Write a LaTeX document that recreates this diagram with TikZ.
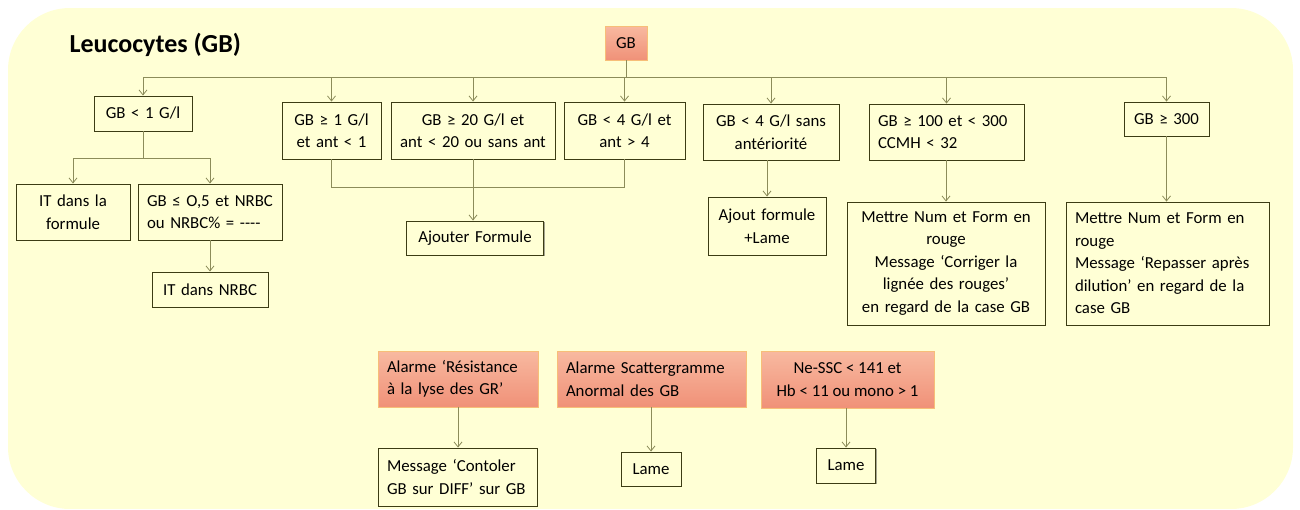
\documentclass[tikz,border=0pt]{standalone}
\usepackage{fontspec}
\setmainfont{Carlito}
\usetikzlibrary{arrows.meta,shadows}
\hyphenpenalty=10000
\exhyphenpenalty=10000
\definecolor{bgy}{RGB}{255,255,213}
\definecolor{boxline}{RGB}{60,60,20}
\definecolor{conn}{RGB}{140,140,90}
\definecolor{salmonA}{RGB}{248,185,160}
\definecolor{salmonB}{RGB}{240,145,120}
\definecolor{salmonline}{RGB}{247,190,120}
\tikzset{
  cbox/.style={draw=boxline, line width=0.9pt, fill=bgy, inner sep=2pt, align=center,
     font=\fontsize{16.8}{22.5}\selectfont, drop shadow={shadow xshift=1pt, shadow yshift=-1pt, opacity=0.5, fill=black!70}},
  lbox/.style={cbox, align=left},
  rbox/.style={draw=salmonline, line width=0.8pt, top color=salmonA, bottom color=salmonB, inner sep=2pt,
     align=left, font=\fontsize{16.8}{22.5}\selectfont},
  conline/.style={draw=conn, line width=0.8pt},
  conarrow/.style={conline, -{Straight Barb[length=5pt,width=8pt]}},
}
\newcommand{\bx}[6]{\node[#1, minimum width=#4pt, minimum height=#5pt, text width=#4pt-18pt] (#2) at #3 {#6};}
\begin{document}
\begin{tikzpicture}[x=1pt,y=-1pt]
\useasboundingbox (0,0) rectangle (1300,509);
\fill[bgy] (8,8) [rounded corners=62pt] -- (8,509) -- (1293,509) -- (1293,8) -- cycle;
\fill[white] (0,509) rectangle (1300,512);
\node[font=\fontsize{26}{30}\selectfont\bfseries, anchor=west] (title) at (66,45) {Leucocytes (GB)};

\node[rbox, align=center, minimum width=42pt, minimum height=34pt] (gb) at (626,43) {GB};

\bx{cbox}{b1}{(143,113.5)}{98}{35}{GB < 1 G/l}
\bx{cbox}{b2}{(331.5,130.5)}{99}{57}{GB ≥ 1 G/l\\et ant < 1}
\bx{cbox}{b3}{(473,130.5)}{164}{57}{GB ≥ 20 G/l et\\ant < 20 ou sans ant}
\bx{cbox}{b4}{(624.5,130.5)}{121}{57}{GB < 4 G/l et\\ant > 4}
\bx{cbox}{b5}{(771,132)}{136}{56}{GB < 4 G/l sans\\antériorité}
\bx{lbox}{b6}{(946.5,132)}{155}{56}{GB ≥ 100 et < 300\\CCMH < 32}
\bx{cbox}{b7}{(1166.5,119)}{85}{34}{GB ≥ 300}

\bx{cbox}{c1}{(73,212)}{114}{56}{IT dans la\\formule}
\bx{lbox}{c2}{(210,212)}{144}{56}{GB ≤ O,5 et NRBC\\ou NRBC\% = -{}-{}-{}-}
\bx{cbox}{c3}{(210,289.5)}{116}{35}{IT dans NRBC}

\bx{cbox}{af}{(475,238)}{137}{34}{Ajouter Formule}
\bx{cbox}{al}{(767,226)}{118}{58}{Ajout formule\\+Lame}
\bx{cbox}{m1}{(946,263.5)}{198}{123}{Mettre Num et Form en\\rouge\\Message ‘Corriger la\\lignée des rouges’\\en regard de la case GB}
\bx{lbox}{m2}{(1167.5,263.5)}{203}{123}{Mettre Num et Form en\\rouge\\Message ‘Repasser après\\dilution’ en regard de la\\case GB}

\bx{rbox}{r1}{(458,379)}{160}{56}{Alarme ‘Résistance\\à la lyse des GR’}
\bx{rbox}{r2}{(651.5,379)}{189}{56}{Alarme Scattergramme\\Anormal des GB}
\node[rbox, align=center, minimum width=173pt, minimum height=57pt] (r3) at (847.5,379.5) {Ne-SSC < 141 et\\Hb < 11 ou mono > 1};
\bx{lbox}{d1}{(457.5,477)}{159}{58}{Message ‘Contoler\\GB sur DIFF’ sur GB}
\bx{cbox}{d2}{(651,469)}{60}{34}{Lame}
\bx{cbox}{d3}{(846,465.5)}{59}{35}{Lame}

% top distribution
\coordinate (hb) at (626,77);
\draw[conline] (b1.north |- hb) -- (b7.north |- hb);
\draw[conline] (gb.south) -- (hb);
\foreach \n in {b1,b2,b3,b4,b5,b6,b7}{\draw[conarrow] (\n.north |- hb) -- (\n.north);}

% GB<1 branch
\coordinate (h1) at (143,158);
\draw[conline] (b1.south) -- (h1);
\draw[conline] (c1.north |- h1) -- (c2.north |- h1);
\draw[conarrow] (c1.north |- h1) -- (c1.north);
\draw[conarrow] (c2.north |- h1) -- (c2.north);
\draw[conarrow] (c2.south) -- (c3.north);

% merge to Ajouter Formule
\coordinate (h2) at (474,187);
\draw[conline] (b2.south) -- (b2.south |- h2) -- (b4.south |- h2) -- (b4.south);
\draw[conline] (b3.south) -- (b3.south |- h2);
\draw[conarrow] (b3.south |- h2) -- (b3.south |- af.north);

\draw[conarrow] (b5.south -| al.north) -- (al.north);
\draw[conarrow] (b6.south -| m1.north) -- (m1.north);
\draw[conarrow] (b7.south) -- (b7.south |- m2.north);

\draw[conarrow] (r1.south) -- (r1.south |- d1.north);
\draw[conarrow] (r2.south -| d2.north) -- (d2.north);
\draw[conarrow] (r3.south -| d3.north) -- (d3.north);
\end{tikzpicture}
\end{document}
